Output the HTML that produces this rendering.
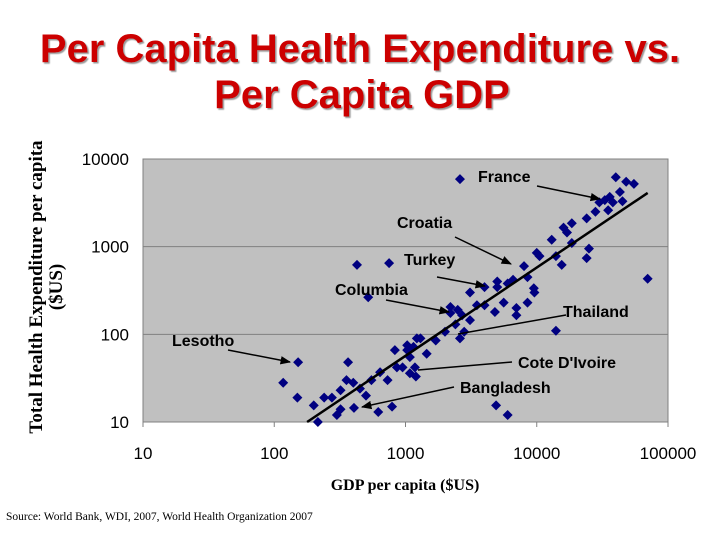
<!DOCTYPE html>
<html><head><meta charset="utf-8"><style>
body{margin:0;background:#fff;width:720px;height:540px;overflow:hidden}
svg text{font-family:"Liberation Sans",sans-serif}
</style></head><body>
<svg width="720" height="540">
<defs><marker id="ah" viewBox="0 0 10 10" refX="9" refY="5" markerWidth="7" markerHeight="7" orient="auto"><path d="M0,1 L10,5 L0,9z" fill="#000"/></marker>
<filter id="sh"><feDropShadow dx="1.5" dy="1.5" stdDeviation="0.5" flood-color="#999"/></filter></defs>
<text x="360" y="62" text-anchor="middle" font-size="40" font-weight="bold" fill="#cc0000" filter="url(#sh)">Per Capita Health Expenditure vs.</text>
<text x="362" y="108" text-anchor="middle" font-size="40" font-weight="bold" fill="#cc0000" filter="url(#sh)">Per Capita GDP</text>
<rect x="143" y="159" width="525" height="263" fill="#c0c0c0" stroke="#808080"/>
<g id="grid"></g><g id="ticks"></g><g id="pts"></g><g id="trend"></g>
<text transform="translate(42,287) rotate(-90)" text-anchor="middle" style="font-family:'Liberation Serif',serif" font-size="19" font-weight="bold"><tspan x="0" y="0">Total Health Expenditure per capita</tspan><tspan x="0" y="20">($US)</tspan></text>
<text x="405" y="490" text-anchor="middle" style="font-family:'Liberation Serif',serif" font-size="16" font-weight="bold">GDP per capita ($US)</text>
<text x="6" y="520" style="font-family:'Liberation Serif',serif" font-size="11.5">Source: World Bank, WDI, 2007, World Health Organization 2007</text>
<g font-size="16" font-weight="bold">
<text x="478" y="182">France</text>
<line x1="537" y1="186" x2="600" y2="199" stroke="#000" stroke-width="1.5" marker-end="url(#ah)"/>
<text x="397" y="228">Croatia</text>
<line x1="455" y1="237" x2="511" y2="264" stroke="#000" stroke-width="1.5" marker-end="url(#ah)"/>
<text x="404" y="265">Turkey</text>
<line x1="437" y1="277" x2="485" y2="286" stroke="#000" stroke-width="1.5" marker-end="url(#ah)"/>
<text x="335" y="295">Columbia</text>
<line x1="386" y1="300" x2="449" y2="312" stroke="#000" stroke-width="1.5" marker-end="url(#ah)"/>
<text x="563" y="317">Thailand</text>
<line x1="566" y1="315" x2="458" y2="334" stroke="#000" stroke-width="1.5"/>
<text x="518" y="368">Cote D'Ivoire</text>
<line x1="512" y1="362" x2="418" y2="370" stroke="#000" stroke-width="1.5"/>
<text x="460" y="393">Bangladesh</text>
<line x1="454" y1="387" x2="362" y2="407" stroke="#000" stroke-width="1.5" marker-end="url(#ah)"/>
<text x="172" y="346">Lesotho</text>
<line x1="228" y1="350" x2="290" y2="362" stroke="#000" stroke-width="1.5" marker-end="url(#ah)"/>
</g>
</svg>
<script>
const xTicks=[10,100,1000,10000,100000];
const yTicks=[10,100,1000,10000];
const gdp=[427,750,520,152,117,150,365,215,200,405,790,620,355,400,450,320,500,240,275,320,300,550,640,730,830,1030,1220,860,1080,1180,
2600,40000,48000,55000,33000,36000,38000,43000,45000,30000,28000,35000,24000,18500,16000,17000,13000,18500,25000,24000,15500,
10000,10500,14000,8000,8500,9500,9600,8500,7000,7000,14000,70000,5600,5000,4000,5000,6000,6600,3100,3500,4000,4800,3100,2200,2500,2200,2700,2400,2000,2600,2800,1700,1300,1150,1450,1030,950,1080,1200,4900,6000];
const health=[620,650,265,48,28,19,48,10,15.5,14.5,15,13,30,28,24,23,20,19,19,14,12,30,37,30,66,75,90,42,55,42,
5900,6200,5500,5200,3400,3700,3200,4200,3300,3200,2500,2600,2100,1850,1650,1450,1200,1100,950,740,620,
850,780,780,600,450,335,300,230,200,165,110,430,230,400,345,345,380,420,300,215,215,180,145,205,190,175,165,130,107,90,107,85,90,72,60,66,42,36,33,15.5,12];
const trendX=[178,70000];
const trendY=[10,4100];
const X0=143,X1=668,Y0=422,Y1=159;
const sx=v=>X0+(Math.log10(v)-1)/4*(X1-X0);
const sy=v=>Y0-(Math.log10(v)-1)/3*(Y0-Y1);
const NS="http://www.w3.org/2000/svg";
function mk(t,a,p){const e=document.createElementNS(NS,t);for(const k in a)e.setAttribute(k,a[k]);document.getElementById(p).appendChild(e);return e;}
yTicks.forEach(v=>{
 const g=mk('line',{x1:X0,x2:X1,y1:sy(v),y2:sy(v),stroke:'#808080'},'grid');
 
 
 const t=mk('text',{x:X0-14,y:sy(v)+6,'text-anchor':'end','font-size':'17'},'ticks');t.textContent=v;
 
 
});
xTicks.forEach(v=>{
 const l=mk('line',{x1:sx(v),x2:sx(v),y1:Y0,y2:Y0+5,stroke:'#808080'},'ticks');
 
 
 const t=mk('text',{x:sx(v),y:Y0+37,'text-anchor':'middle','font-size':'17'},'ticks');t.textContent=v;
 
 
});
gdp.forEach((g,i)=>{
 const x=sx(g),y=sy(health[i]);
 const p=mk('path',{d:`M${x},${y-5}L${x+5},${y}L${x},${y+5}L${x-5},${y}Z`,fill:'#000080'},'pts');
 
 
});
const tl=mk('line',{x1:sx(trendX[0]),y1:sy(trendY[0]),x2:sx(trendX[1]),y2:sy(trendY[1]),stroke:'#000','stroke-width':2.5},'trend');


</script>
</body></html>
